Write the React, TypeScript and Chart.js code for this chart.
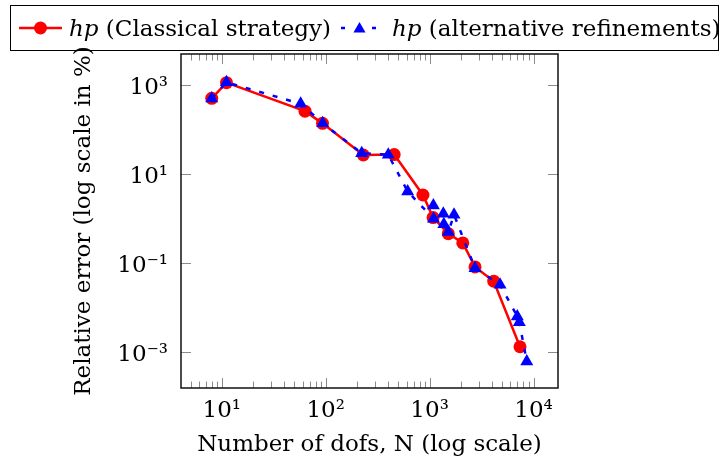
import React, { useEffect, useRef } from "react";
import { Chart, registerables } from "chart.js";

Chart.register(...registerables);

// ---- data ----
const classicalN = [8.0, 11.1, 63.2, 93.1, 230, 456, 863, 1080, 1513, 2085, 2735, 4140, 7410];
const classicalErr = [502, 1127, 258, 137, 26.6, 27.2, 3.35, 1.04, 0.452, 0.279, 0.0805, 0.0385, 0.00129];

const altN = [8.0, 11.1, 57.4, 93.5, 222, 400, 615, 1090, 1087, 1355, 1370, 1513, 1718, 2735, 4764, 6980, 7300, 8610];
const altErr = [495, 1150, 378, 138, 29.2, 26.9, 4.02, 0.98, 1.95, 1.26, 0.738, 0.489, 1.2, 0.0757, 0.032, 0.0062, 0.0046, 0.0006];

const seriesItalic = ["hp", "hp"];
const seriesRest = [" (Classical strategy)", " (alternative refinements)"];

const xTickValues = [10, 100, 1000, 10000];
const xTickLabels = ["10\u00b9", "10\u00b2", "10\u00b3", "10\u2074"];
const yTickValues = [0.001, 0.1, 10, 1000];
const yTickLabels = ["10\u207b\u00b3", "10\u207b\u00b9", "10\u00b9", "10\u00b3"];

const xTitle = "Number of dofs, N (log scale)";
const yTitle = "Relative error (log scale in %)";

const FONT = '"DejaVu Serif", "Liberation Serif", serif';
const FS = 23;

const frameTicksPlugin = {
  id: "frameTicks",
  afterDraw(chart: any) {
    const ctx = chart.ctx;
    const { left, right, top, bottom } = chart.chartArea;
    const xs = chart.scales.x;
    const ys = chart.scales.y;
    ctx.save();
    ctx.strokeStyle = "#8c8c8c";
    ctx.lineWidth = 1;
    for (let e = 0; e <= 5; e++) {
      for (let m = 1; m <= 9; m++) {
        const v = m * Math.pow(10, e);
        if (v < xs.min || v > xs.max) continue;
        const px = Math.round(xs.getPixelForValue(v)) + 0.5;
        const len = m === 1 ? 10 : 6.5;
        ctx.beginPath();
        ctx.moveTo(px, bottom);
        ctx.lineTo(px, bottom - len);
        ctx.moveTo(px, top);
        ctx.lineTo(px, top + len);
        ctx.stroke();
      }
    }
    for (const v of yTickValues) {
      const py = Math.round(ys.getPixelForValue(v)) + 0.5;
      ctx.beginPath();
      ctx.moveTo(left, py);
      ctx.lineTo(left + 10, py);
      ctx.moveTo(right, py);
      ctx.lineTo(right - 10, py);
      ctx.stroke();
    }
    ctx.strokeStyle = "#111";
    ctx.lineWidth = 1.5;
    ctx.strokeRect(left, top, right - left, bottom - top);
    ctx.restore();
  },
};

const legendPlugin = {
  id: "pgfLegend",
  afterDraw(chart: any) {
    const ctx = chart.ctx;
    ctx.save();
    ctx.strokeStyle = "#000";
    ctx.lineWidth = 1;
    ctx.strokeRect(10.5, 5.5, 708, 45);
    const cy = 28;
    ctx.strokeStyle = "#ff0000";
    ctx.lineWidth = 2.5;
    ctx.beginPath();
    ctx.moveTo(19, cy);
    ctx.lineTo(62, cy);
    ctx.stroke();
    ctx.fillStyle = "#ff0000";
    ctx.beginPath();
    ctx.arc(40.5, cy, 6.5, 0, Math.PI * 2);
    ctx.fill();
    ctx.strokeStyle = "#0000ff";
    ctx.setLineDash([4, 27]);
    ctx.beginPath();
    ctx.moveTo(341, cy);
    ctx.lineTo(377, cy);
    ctx.stroke();
    ctx.setLineDash([]);
    ctx.fillStyle = "#0000ff";
    const r = 7;
    const tx = 359.5, ty = cy + 1;
    ctx.beginPath();
    ctx.moveTo(tx, ty - r);
    ctx.lineTo(tx + r * 0.866, ty + r / 2);
    ctx.lineTo(tx - r * 0.866, ty + r / 2);
    ctx.closePath();
    ctx.fill();
    const starts = [69, 392];
    ctx.fillStyle = "#000";
    ctx.textBaseline = "alphabetic";
    for (let i = 0; i < 2; i++) {
      ctx.font = `italic ${FS}px ${FONT}`;
      ctx.fillText(seriesItalic[i], starts[i], 36);
      const w = ctx.measureText(seriesItalic[i]).width;
      ctx.font = `${FS}px ${FONT}`;
      ctx.fillText(seriesRest[i], starts[i] + w, 36);
    }
    ctx.restore();
  },
};

export default function App() {
  const ref = useRef<HTMLCanvasElement | null>(null);
  useEffect(() => {
    if (!ref.current) return;
    const chart = new Chart(ref.current, {
      type: "line",
      data: {
        datasets: [
          {
            label: seriesItalic[0] + seriesRest[0],
            data: classicalN.map((n, i) => ({ x: n, y: classicalErr[i] })),
            borderColor: "#ff0000",
            backgroundColor: "#ff0000",
            borderWidth: 2.5,
            pointStyle: "circle",
            pointRadius: 6.5,
            pointBorderWidth: 0,
            order: 2,
          },
          {
            label: seriesItalic[1] + seriesRest[1],
            data: altN.map((n, i) => ({ x: n, y: altErr[i] })),
            borderColor: "#0000ff",
            backgroundColor: "#0000ff",
            borderWidth: 2.5,
            borderDash: [5, 9],
            pointStyle: "triangle",
            pointRadius: 7.5,
            pointBorderWidth: 0,
            order: 1,
          },
        ],
      },
      options: {
        animation: false,
        responsive: false,
        layout: { padding: { left: 0, right: 165, top: 54, bottom: 0 } },
        plugins: { legend: { display: false }, tooltip: { enabled: false } },
        scales: {
          x: {
            type: "logarithmic",
            min: 4.05,
            max: 17200,
            afterBuildTicks: (s: any) => {
              s.ticks = xTickValues.map((v) => ({ value: v }));
            },
            afterFit: (s: any) => {
              s.height = 81;
            },
            grid: { display: false, drawTicks: false },
            border: { display: false },
            ticks: {
              autoSkip: false,
              maxRotation: 0,
              padding: 9,
              color: "#000",
              font: { family: FONT, size: FS },
              callback: (v: any) => {
                const i = xTickValues.indexOf(Number(v));
                return i >= 0 ? xTickLabels[i] : "";
              },
            },
            title: {
              display: true,
              text: xTitle,
              color: "#000",
              font: { family: FONT, size: FS },
              padding: { top: 0, bottom: 10 },
            },
          },
          y: {
            type: "logarithmic",
            min: 1.52e-4,
            max: 4980,
            afterBuildTicks: (s: any) => {
              s.ticks = yTickValues.map((v) => ({ value: v }));
            },
            afterFit: (s: any) => {
              s.width = 181;
            },
            grid: { display: false, drawTicks: false },
            border: { display: false },
            ticks: {
              autoSkip: false,
              padding: 13,
              labelOffset: 3,
              color: "#000",
              font: { family: FONT, size: FS },
              callback: (v: any) => {
                const i = yTickValues.findIndex((t) => Math.abs(t - Number(v)) / t < 1e-6);
                return i >= 0 ? yTickLabels[i] : "";
              },
            },
            title: {
              display: true,
              text: yTitle,
              color: "#000",
              font: { family: FONT, size: FS },
              padding: { top: 70, bottom: 0 },
            },
          },
        },
      },
      plugins: [frameTicksPlugin, legendPlugin],
    });
    return () => chart.destroy();
  }, []);
  return (
    <div style={{ position: "fixed", left: 0, top: 0, width: 723, height: 469, background: "#fff" }}>
      <canvas ref={ref} width={723} height={469} />
    </div>
  );
}
